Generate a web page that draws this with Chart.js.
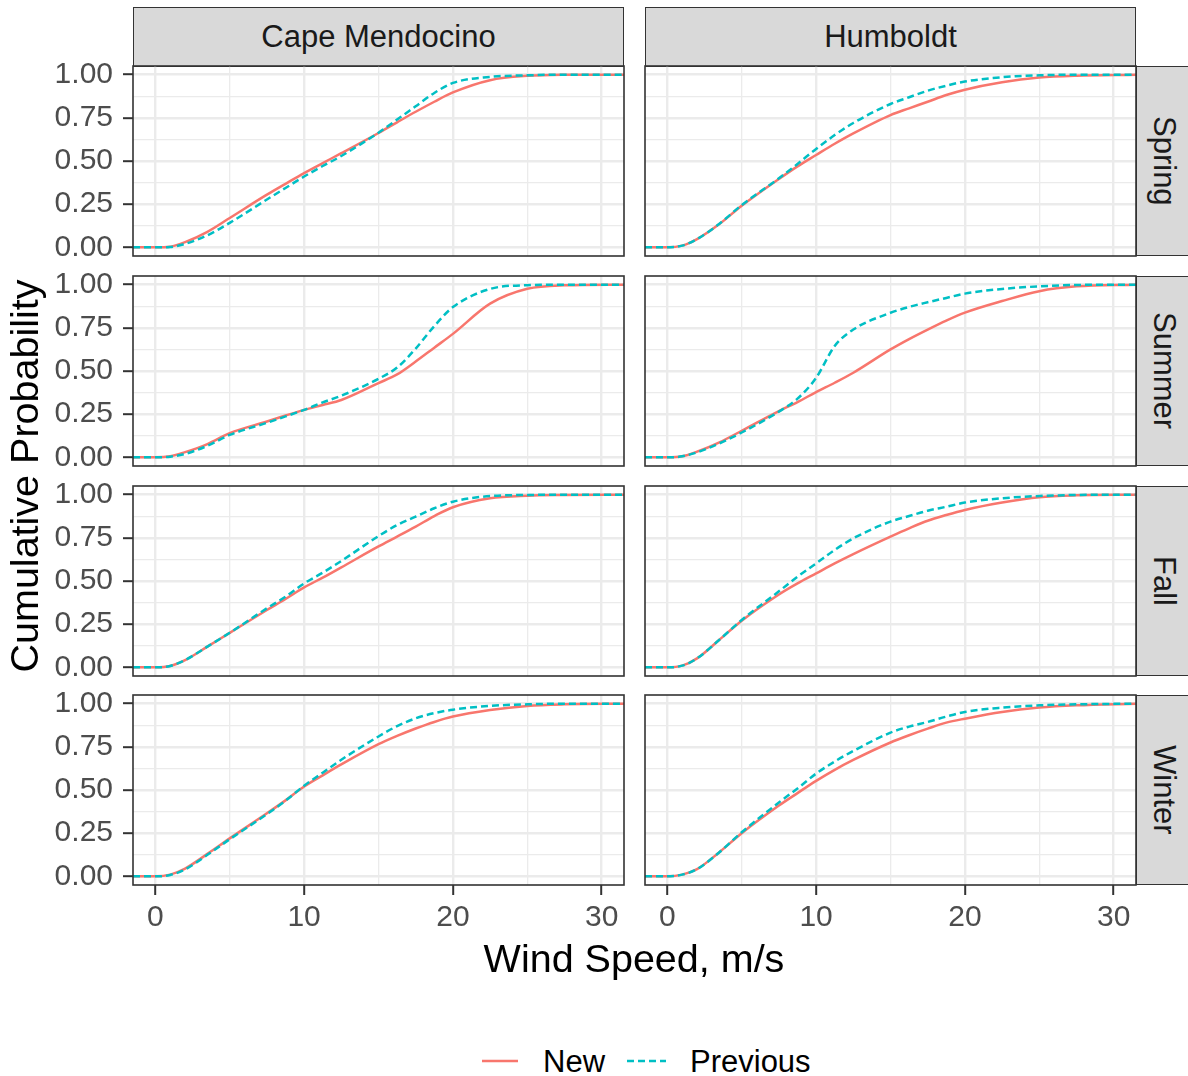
<!DOCTYPE html>
<html>
<head>
<meta charset="utf-8">
<script src="https://cdn.jsdelivr.net/npm/chart.js@4.4.0/dist/chart.umd.min.js"></script>
<style>
body { margin: 0; background: #fff; }
#wrap { position: relative; width: 1188px; height: 1076px; overflow: hidden; font-family: "Liberation Sans", Arial, sans-serif; }
canvas.panel { position: absolute; }
.strip { position: absolute; background: #d9d9d9; border: 1.6px solid #333; box-sizing: border-box; color: #1a1a1a; font-size: 31px; display: flex; align-items: center; justify-content: center; }
.strip.side span { writing-mode: vertical-rl; }
.title { position: absolute; color: #000; font-size: 39.5px; text-align: center; white-space: nowrap; }
.leg { position: absolute; font-size: 31px; color: #000; line-height: 40px; }
</style>
</head>
<body>
<div id="wrap"></div>
<script>
// wind speed (m/s) where the curves were read
var WIND_SPEED = [-1.5, 0, 1, 2, 3.5, 5, 7.5, 8.75, 10, 11.25, 12.5, 15, 16.25, 17.5, 18.75, 20, 22.5, 25, 27.5, 31.5];

var SITES = ['Cape Mendocino', 'Humboldt'];
var SEASONS = ['Spring', 'Summer', 'Fall', 'Winter'];
var X_TICKS = [0, 10, 20, 30];
var Y_TICKS = [0, 0.25, 0.5, 0.75, 1];

var capeSpringNew  = [0, 0, 0.004, 0.03, 0.09, 0.17, 0.305, 0.368, 0.43, 0.488, 0.545, 0.662, 0.724, 0.785, 0.843, 0.897, 0.968, 0.993, 0.999, 1];
var capeSpringPrev = [0, 0, 0.002, 0.02, 0.07, 0.142, 0.277, 0.344, 0.41, 0.471, 0.529, 0.664, 0.74, 0.817, 0.894, 0.952, 0.987, 0.996, 1, 1];
var humSpringNew   = [0, 0, 0.01, 0.048, 0.135, 0.241, 0.396, 0.469, 0.535, 0.6, 0.66, 0.766, 0.805, 0.843, 0.882, 0.913, 0.956, 0.983, 0.994, 1];
var humSpringPrev  = [0, 0, 0.01, 0.048, 0.137, 0.245, 0.4, 0.483, 0.57, 0.65, 0.72, 0.83, 0.869, 0.907, 0.936, 0.96, 0.985, 0.996, 1, 1];

var capeSummerNew  = [0, 0, 0.006, 0.03, 0.077, 0.14, 0.208, 0.242, 0.275, 0.303, 0.332, 0.43, 0.48, 0.555, 0.635, 0.715, 0.89, 0.976, 0.996, 1];
var capeSummerPrev = [0, 0, 0.004, 0.02, 0.067, 0.13, 0.2, 0.237, 0.275, 0.318, 0.357, 0.455, 0.52, 0.63, 0.76, 0.87, 0.975, 0.997, 1, 1];
var humSummerNew   = [0, 0, 0.006, 0.033, 0.087, 0.154, 0.268, 0.32, 0.378, 0.432, 0.49, 0.625, 0.685, 0.74, 0.792, 0.838, 0.905, 0.962, 0.99, 1];
var humSummerPrev  = [0, 0, 0.006, 0.029, 0.081, 0.144, 0.265, 0.34, 0.46, 0.645, 0.74, 0.837, 0.871, 0.898, 0.923, 0.948, 0.975, 0.99, 0.998, 1];

var capeFallNew    = [0, 0, 0.008, 0.042, 0.12, 0.2, 0.332, 0.396, 0.463, 0.519, 0.579, 0.70, 0.757, 0.815, 0.876, 0.927, 0.979, 0.994, 0.998, 1];
var capeFallPrev   = [0, 0, 0.008, 0.042, 0.12, 0.2, 0.342, 0.409, 0.486, 0.548, 0.616, 0.76, 0.824, 0.873, 0.921, 0.959, 0.992, 0.998, 1, 1];
var humFallNew     = [0, 0, 0.01, 0.052, 0.16, 0.27, 0.422, 0.486, 0.544, 0.602, 0.656, 0.757, 0.805, 0.849, 0.882, 0.911, 0.954, 0.985, 0.996, 1];
var humFallPrev    = [0, 0, 0.01, 0.052, 0.16, 0.274, 0.44, 0.525, 0.602, 0.68, 0.747, 0.844, 0.876, 0.907, 0.93, 0.954, 0.979, 0.992, 0.998, 1];

var capeWinterNew  = [0, 0, 0.01, 0.045, 0.13, 0.22, 0.365, 0.44, 0.52, 0.585, 0.648, 0.765, 0.813, 0.856, 0.894, 0.925, 0.963, 0.987, 0.996, 1];
var capeWinterPrev = [0, 0, 0.008, 0.04, 0.125, 0.215, 0.36, 0.438, 0.525, 0.6, 0.675, 0.81, 0.87, 0.915, 0.945, 0.965, 0.987, 0.996, 1, 1];
var humWinterNew   = [0, 0, 0.01, 0.042, 0.14, 0.25, 0.41, 0.482, 0.553, 0.617, 0.674, 0.775, 0.817, 0.855, 0.89, 0.913, 0.952, 0.977, 0.99, 1];
var humWinterPrev  = [0, 0, 0.01, 0.042, 0.14, 0.255, 0.428, 0.509, 0.595, 0.665, 0.726, 0.832, 0.867, 0.894, 0.925, 0.952, 0.977, 0.99, 0.996, 1];

var SERIES = {
  'Cape Mendocino': { Spring: [capeSpringNew, capeSpringPrev], Summer: [capeSummerNew, capeSummerPrev], Fall: [capeFallNew, capeFallPrev], Winter: [capeWinterNew, capeWinterPrev] },
  'Humboldt': { Spring: [humSpringNew, humSpringPrev], Summer: [humSummerNew, humSummerPrev], Fall: [humFallNew, humFallPrev], Winter: [humWinterNew, humWinterPrev] }
};

var FONT = '"Liberation Sans", Arial, sans-serif';
var PANEL_W = 491, PANEL_H = 190;
var COL_X = [133, 645];
var ROW_Y = [66, 276, 486, 695];

// minor grid lines sit half way between labelled breaks
var X_GRID = [], Y_GRID = [];
X_TICKS.forEach(function (v, i) { X_GRID.push(v); if (i < X_TICKS.length - 1) X_GRID.push((v + X_TICKS[i + 1]) / 2); });
Y_TICKS.forEach(function (v, i) { Y_GRID.push(v); if (i < Y_TICKS.length - 1) Y_GRID.push((v + Y_TICKS[i + 1]) / 2); });

var wrap = document.getElementById('wrap');

var panelBorder = {
  id: 'panelBorder',
  afterDatasetsDraw: function (chart) {
    var a = chart.chartArea, g = chart.ctx;
    g.save();
    g.strokeStyle = '#333333';
    g.lineWidth = 1.6;
    g.strokeRect(a.left, a.top, a.right - a.left, a.bottom - a.top);
    g.restore();
  }
};

function toPts(vals) {
  return WIND_SPEED.map(function (x, i) { return { x: x, y: vals[i] }; });
}

function isIn(arr, v) {
  for (var i = 0; i < arr.length; i++) if (Math.abs(arr[i] - v) < 1e-9) return true;
  return false;
}

function makePanel(site, season, c, r) {
  var pad = 36;
  var yw = c === 0 ? 93 : 0;
  var xh = r === 3 ? 48 : 0;
  var cv = document.createElement('canvas');
  cv.className = 'panel';
  cv.width = pad + yw + PANEL_W + pad;
  cv.height = pad + PANEL_H + xh + pad;
  cv.style.left = (COL_X[c] - pad - yw) + 'px';
  cv.style.top = (ROW_Y[r] - pad) + 'px';
  wrap.appendChild(cv);

  var vals = SERIES[site][season];
  new Chart(cv.getContext('2d'), {
    type: 'line',
    data: {
      datasets: [
        { label: 'New', data: toPts(vals[0]), borderColor: '#F8766D', borderWidth: 2.5, order: 1 },
        { label: 'Previous', data: toPts(vals[1]), borderColor: '#00BFC4', borderWidth: 2.5, borderDash: [7, 4], order: 0 }
      ]
    },
    options: {
      responsive: false,
      animation: false,
      layout: { padding: pad },
      elements: { point: { radius: 0 }, line: { cubicInterpolationMode: 'monotone', fill: false } },
      plugins: { legend: { display: false }, tooltip: { enabled: false } },
      scales: {
        x: {
          type: 'linear', min: -1.5, max: 31.5,
          afterBuildTicks: function (s) { s.ticks = X_GRID.map(function (v) { return { value: v }; }); },
          afterFit: function (s) { s.height = xh; },
          border: { display: false },
          grid: {
            color: '#EBEBEB',
            lineWidth: function (ctx) { return ctx.tick && isIn(X_TICKS, ctx.tick.value) ? 2.4 : 1.3; },
            drawTicks: r === 3, tickLength: 10, tickWidth: 2,
            tickColor: function (ctx) { return ctx.tick && isIn(X_TICKS, ctx.tick.value) ? '#333333' : 'rgba(0,0,0,0)'; }
          },
          ticks: {
            display: r === 3, autoSkip: false, maxRotation: 0, padding: 5,
            color: '#4d4d4d', font: { family: FONT, size: 30 },
            callback: function (v) { return isIn(X_TICKS, v) ? String(v) : ''; }
          }
        },
        y: {
          type: 'linear', min: -0.05, max: 1.05,
          afterBuildTicks: function (s) { s.ticks = Y_GRID.map(function (v) { return { value: v }; }); },
          afterFit: function (s) { s.width = yw; },
          border: { display: false },
          grid: {
            color: '#EBEBEB',
            lineWidth: function (ctx) { return ctx.tick && isIn(Y_TICKS, ctx.tick.value) ? 2.4 : 1.3; },
            drawTicks: c === 0, tickLength: 10, tickWidth: 2,
            tickColor: function (ctx) { return ctx.tick && isIn(Y_TICKS, ctx.tick.value) ? '#333333' : 'rgba(0,0,0,0)'; }
          },
          ticks: {
            display: c === 0, autoSkip: false, padding: 10,
            color: '#4d4d4d', font: { family: FONT, size: 30 },
            callback: function (v) { return isIn(Y_TICKS, v) ? v.toFixed(2) : ''; }
          }
        }
      }
    },
    plugins: [panelBorder]
  });
}

// strips
SITES.forEach(function (site, c) {
  var d = document.createElement('div');
  d.className = 'strip';
  d.style.left = COL_X[c] + 'px';
  d.style.top = '7px';
  d.style.width = PANEL_W + 'px';
  d.style.height = '60px';
  d.textContent = site;
  wrap.appendChild(d);
});
SEASONS.forEach(function (season, r) {
  var d = document.createElement('div');
  d.className = 'strip side';
  d.style.left = (COL_X[1] + PANEL_W) + 'px';
  d.style.top = ROW_Y[r] + 'px';
  d.style.width = '60px';
  d.style.height = PANEL_H + 'px';
  d.style.justifyContent = 'flex-start';
  d.style.paddingLeft = '9px';
  d.innerHTML = '<span>' + season + '</span>';
  wrap.appendChild(d);
});

SEASONS.forEach(function (season, r) {
  SITES.forEach(function (site, c) { makePanel(site, season, c, r); });
});

// axis titles
var yt = document.createElement('div');
yt.className = 'title';
yt.style.cssText = 'left:-226px;top:451px;width:500px;height:50px;line-height:50px;transform:rotate(-90deg);';
yt.textContent = 'Cumulative Probability';
wrap.appendChild(yt);

var xt = document.createElement('div');
xt.className = 'title';
xt.style.cssText = 'left:134px;top:933px;width:1000px;height:50px;line-height:50px;';
xt.textContent = 'Wind Speed, m/s';
wrap.appendChild(xt);

// legend
var leg = document.createElement('div');
leg.innerHTML =
  '<svg style="position:absolute;left:480px;top:1052px" width="190" height="20">' +
  '<line x1="2" y1="9" x2="38" y2="9" stroke="#F8766D" stroke-width="2.5"/>' +
  '<line x1="147" y1="9" x2="186" y2="9" stroke="#00BFC4" stroke-width="2.5" stroke-dasharray="7,4"/>' +
  '</svg>' +
  '<span class="leg" style="left:543px;top:1042px">New</span>' +
  '<span class="leg" style="left:690px;top:1042px">Previous</span>';
wrap.appendChild(leg);
</script>
</body>
</html>
